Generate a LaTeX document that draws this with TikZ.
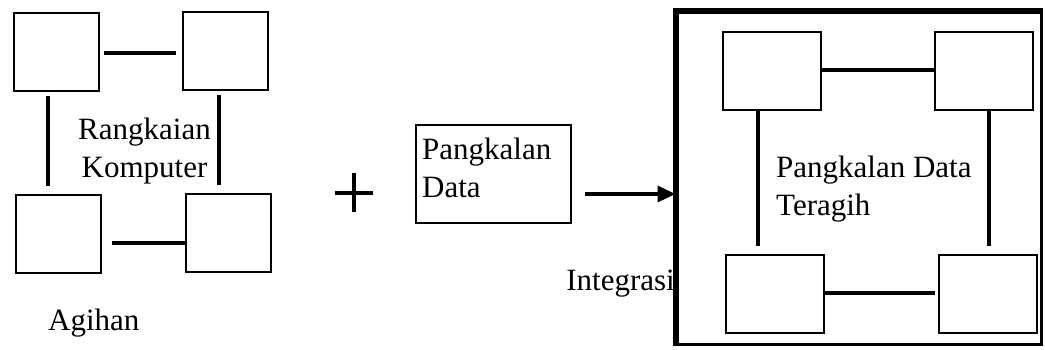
\documentclass[tikz,border=0pt]{standalone}
\usepackage{fontspec}
\setmainfont{Liberation Serif}
\usetikzlibrary{positioning,arrows.meta}

\begin{document}
\begin{tikzpicture}[x=1pt, y=-1pt, font=\fontsize{31}{38}\selectfont]
    % Define styles
    \tikzstyle{box}=[rectangle, draw=black, line width=2pt, minimum width=85pt, minimum height=78pt, inner sep=0pt]
    \tikzstyle{nodebox}=[box, minimum width=98pt]
    \tikzstyle{link}=[line width=4.5pt]
    \tikzstyle{linkthin}=[line width=3.5pt]
    \tikzstyle{txt}=[inner sep=0pt]
    \tikzstyle{arrow}=[-{Triangle[length=18pt,width=16pt]}, line width=3.5pt]

    \useasboundingbox (0,0) rectangle (1045,349);

    % Computer network (left)
    \node[box] (pc1) at (56,51.5) {};
    \node[box] (pc2) at (225.5,51) {};
    \node[box] (pc3) at (58,234) {};
    \node[box] (pc4) at (228,233) {};
    \node[txt, align=center, anchor=base] (net) at (144.5,177) {Rangkaian\\Komputer};
    \node[txt, anchor=base west] (dist) at (48,330) {Agihan};

    \draw[link] ([xshift=4pt,yshift=-1.5pt]pc1.east) -- ([xshift=-6pt,yshift=-1.5pt]pc1.east -| pc2.west);
    \draw[link] ([xshift=-8pt,yshift=-4pt]pc1.south) -- ([xshift=-8pt,yshift=8pt]pc1.south |- pc3.north);
    \draw[link] ([xshift=-6.5pt,yshift=-4pt]pc2.south) -- ([xshift=-6.5pt,yshift=8pt]pc2.south |- pc4.north);
    \draw[link] ([xshift=10pt,yshift=-9pt]pc3.east) -- ([yshift=-9pt]pc3.east -| pc4.west);

    % Plus sign
    \coordinate (plus) at (354,193);
    \draw[link] ([xshift=-19pt]plus) -- ([xshift=19pt]plus);
    \draw[link] ([yshift=20pt]plus) -- ([yshift=-19pt]plus);

    % Database
    \node[box, minimum width=155pt, minimum height=98pt] (db) at (493.5,174) {};
    \node[txt, align=left, anchor=base west] (dbtext) at (422,197) {Pangkalan\\Data};

    % Distributed database (right)
    \node[rectangle, draw=black, line width=3pt, minimum width=364pt, minimum height=332pt, inner sep=0pt] (frame) at (859,178) {};
    \draw[line width=5pt] (frame.south west) -- (frame.north west) -- (frame.north east);
    \node[nodebox] (db1) at (771.5,71) {};
    \node[nodebox] (db2) at (984,71) {};
    \node[nodebox] (db3) at (774.5,294) {};
    \node[nodebox] (db4) at (987.5,294) {};
    \node[txt, align=left, anchor=base west] (ddb) at (776,215) {Pangkalan Data\\Teragih};

    \draw[linkthin] ([yshift=1pt]db1.east) -- ([yshift=1pt]db1.east -| db2.west);
    \draw[linkthin] ([xshift=-13.5pt]db1.south) -- ([xshift=-13.5pt,yshift=8pt]db1.south |- db3.north);
    \draw[linkthin] ([xshift=5pt]db2.south) -- ([xshift=5pt,yshift=8pt]db2.south |- db4.north);
    \draw[linkthin] ([yshift=1pt]db3.east) -- ([xshift=-3pt,yshift=1pt]db3.east -| db4.west);

    % Integration
    \coordinate (arrstart) at (585,194);
    \draw[arrow] (arrstart) -- (arrstart -| frame.west);
    \node[txt, anchor=base east] (integ) at (675,290) {Integrasi};
\end{tikzpicture}
\end{document}
